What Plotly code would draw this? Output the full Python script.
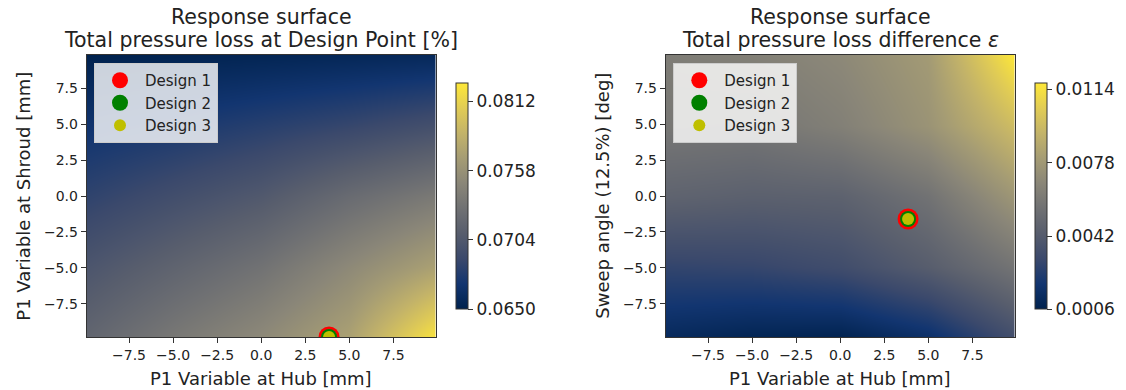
import plotly.graph_objects as go

# ---------------- data ----------------
grid_x = [-9.9, -4.95, 0.0, 4.95, 9.9]
grid_y = [-9.8, -4.9, 0.0, 4.9, 9.8]

# Total pressure loss at design point (rows: bottom -> top)
loss_dp = [
    [0.07169, 0.07345, 0.07503, 0.07714, 0.08225],
    [0.07010, 0.07151, 0.07292, 0.07503, 0.07714],
    [0.06834, 0.06940, 0.07046, 0.07222, 0.07362],
    [0.06676, 0.06729, 0.06799, 0.06870, 0.06958],
    [0.06500, 0.06518, 0.06535, 0.06553, 0.06570],
]
# Total pressure loss difference epsilon (rows: bottom -> top)
loss_diff = [
    [0.0011, 0.0008, 0.0007, 0.0015, 0.0034],
    [0.0028, 0.0029, 0.0033, 0.0043, 0.0057],
    [0.0047, 0.0045, 0.0046, 0.0056, 0.0077],
    [0.0059, 0.0058, 0.0064, 0.0075, 0.0097],
    [0.0062, 0.0064, 0.0069, 0.0079, 0.0117],
]
cb1_range = [0.0650, 0.0826]
cb2_range = [0.0006, 0.0117]
cb1_ticks = [0.0650, 0.0704, 0.0758, 0.0812]
cb2_ticks = [0.0006, 0.0042, 0.0078, 0.0114]
axis_ticks = [-7.5, -5.0, -2.5, 0.0, 2.5, 5.0, 7.5]

designs = ["Design 1", "Design 2", "Design 3"]
design_hub = [3.85, 3.85, 3.85]
design_shroud = [-9.8, -9.8, -9.8]
design_sweep = [-1.6, -1.6, -1.6]
design_colors = ["#ff0000", "#008000", "#bfbf00"]
design_sizes = [21, 16, 12]

FONT = "DejaVu Sans"
W, H = 1126, 390

fig = go.Figure()

def cbar(x_px, ticks):
    return dict(x=x_px / W, xanchor="left", y=1 - 196.3 / H, yanchor="middle",
                len=226, lenmode="pixels", thickness=12, xpad=0, ypad=0,
                outlinewidth=1, outlinecolor="#333", tickvals=ticks, tickformat=".4f",
                ticks="outside", ticklen=5, tickcolor="#333",
                tickfont=dict(family=FONT, size=17, color="#222"))

fig.add_trace(go.Heatmap(
    x=grid_x, y=grid_y, z=loss_dp, zsmooth="best", colorscale="Cividis",
    zmin=cb1_range[0], zmax=cb1_range[1], xaxis="x", yaxis="y", showscale=True,
    colorbar=cbar(456, cb1_ticks),
))
fig.add_trace(go.Heatmap(
    x=grid_x, y=grid_y, z=loss_diff, zsmooth="best", colorscale="Cividis",
    zmin=cb2_range[0], zmax=cb2_range[1], xaxis="x2", yaxis="y2", showscale=True,
    colorbar=cbar(1035.3, cb2_ticks),
))

for i, name in enumerate(designs):
    fig.add_trace(go.Scatter(
        x=[design_hub[i]], y=[design_shroud[i]], mode="markers", name=name,
        marker=dict(color=design_colors[i], size=design_sizes[i], line=dict(width=0)),
        xaxis="x", yaxis="y", legend="legend", cliponaxis=True,
    ))
for i, name in enumerate(designs):
    fig.add_trace(go.Scatter(
        x=[design_hub[i]], y=[design_sweep[i]], mode="markers", name=name,
        marker=dict(color=design_colors[i], size=design_sizes[i], line=dict(width=0)),
        xaxis="x2", yaxis="y2", legend="legend2", cliponaxis=True,
    ))

axis_common = dict(
    showgrid=False, zeroline=False, showline=True, mirror=True, linecolor="#333", linewidth=1,
    ticks="outside", ticklen=5, tickcolor="#333", tickvals=axis_ticks, tickformat=".1f",
    tickfont=dict(family=FONT, size=14, color="#222"), automargin=False, tickangle=0,
)
ydom = [53 / H, 335 / H]
legend_common = dict(y=1 - 63 / H, xanchor="left", yanchor="top",
                     bgcolor="rgba(255,255,255,0.8)", bordercolor="#cccccc", borderwidth=1,
                     font=dict(family=FONT, size=15, color="#222"), itemwidth=40, tracegroupgap=0)
fig.update_layout(
    width=W, height=H, margin=dict(l=0, r=0, t=0, b=0, autoexpand=False),
    paper_bgcolor="white", plot_bgcolor="white",
    font=dict(family=FONT, color="#222"),
    xaxis=dict(domain=[86.7 / W, 435.7 / W], range=[-9.9, 9.9], anchor="y", **axis_common),
    yaxis=dict(domain=ydom, range=[-9.8, 9.8], anchor="x", **axis_common),
    xaxis2=dict(domain=[665.7 / W, 1014.7 / W], range=[-9.9, 9.9], anchor="y2", **axis_common),
    yaxis2=dict(domain=ydom, range=[-9.8, 9.8], anchor="x2", **axis_common),
    legend=dict(x=94 / W, **legend_common),
    legend2=dict(x=673.3 / W, **legend_common),
)

def ann(text, x, y, size, angle=0):
    fig.add_annotation(text=text, x=x / W, y=1 - y / H, xref="paper", yref="paper",
                       showarrow=False, xanchor="center", yanchor="middle", textangle=angle,
                       font=dict(family=FONT, size=size, color="#222"))

cx1 = (86.7 + 435.7) / 2
cx2 = (665.7 + 1014.7) / 2
ann("Response surface", cx1, 17, 20.5)
ann("Total pressure loss at Design Point [%]", cx1, 40, 20.5)
ann("Response surface", cx2, 17, 20.5)
ann("Total pressure loss difference <i>ε</i>", cx2, 40, 20.5)
ann("P1 Variable at Hub [mm]", cx1, 378, 18)
ann("P1 Variable at Hub [mm]", cx2, 378, 18)
ann("P1 Variable at Shroud [mm]", 22.7, 196, 18, -90)
ann("Sweep angle (12.5%) [deg]", 601.7, 196, 18, -90)

fig.write_html("out.html")
